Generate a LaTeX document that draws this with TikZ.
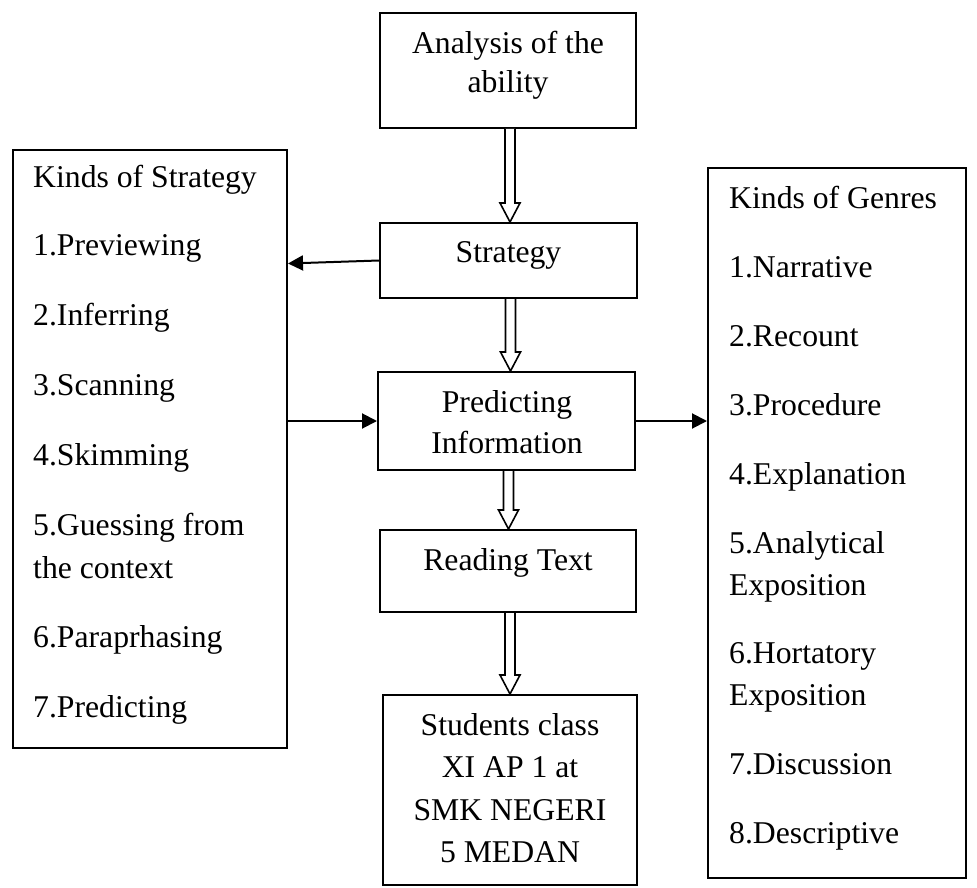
\documentclass[tikz,border=0pt]{standalone}
\usepackage{fontspec}
\setmainfont{Liberation Serif}
\usetikzlibrary{arrows.meta,calc}
\begin{document}
\begin{tikzpicture}[x=1pt,y=-1pt,
  box/.style={draw=black,line width=2pt,rectangle,inner sep=0pt,fill=none},
  txt/.style={inner sep=0pt,font=\fontsize{31.7}{38}\selectfont},
  ltxt/.style={txt,anchor=base west},
  ctxt/.style={txt,anchor=base},
  arr/.style={line width=2pt,-{Triangle[length=15pt,width=15pt]}},
  blk/.style={draw=black,line width=1.6pt,fill=white,line join=miter}]
\useasboundingbox (0,0) rectangle (977,888);
% boxes
\node[box,minimum width=256pt,minimum height=115pt] (ana) at (508,70.5) {};
\node[box,minimum width=257pt,minimum height=75pt] (strat) at (508.5,260.5) {};
\node[box,minimum width=257pt,minimum height=98pt] (pred) at (506.5,421) {};
\node[box,minimum width=256pt,minimum height=82pt] (read) at (508,571) {};
\node[box,minimum width=254pt,minimum height=190pt] (stud) at (510,790) {};
\node[box,minimum width=274pt,minimum height=598pt] (left) at (150,449) {};
\node[box,minimum width=258pt,minimum height=710pt] (right) at (837,523) {};
% centre texts
\node[ctxt] (ana1) at (508,54) {Analysis of the};
\node[ctxt] (ana2) at (508,93) {ability};
\node[ctxt] (strat1) at (508.5,262) {Strategy};
\node[ctxt] (pred1) at (507,412) {Predicting};
\node[ctxt] (pred2) at (507,453) {Information};
\node[ctxt] (read1) at (508,570) {Reading Text};
\node[ctxt] (stud1) at (510,735) {Students class};
\node[ctxt] (stud2) at (510,777) {XI AP 1 at};
\node[ctxt] (stud3) at (510,820) {SMK NEGERI};
\node[ctxt] (stud4) at (510,862) {5 MEDAN};
% left list
\foreach \t/\yy [count=\i] in {Kinds of Strategy/187,1.Previewing/255,2.Inferring/325,3.Scanning/395,4.Skimming/465,5.Guessing from/535,the context/578,6.Paraprhasing/647,7.Predicting/717}
  \node[ltxt] (l\i) at (33,\yy) {\t};
% right list
\foreach \t/\yy [count=\i] in {Kinds of Genres/208,1.Narrative/277,2.Recount/346,3.Procedure/415,4.Explanation/484,5.Analytical/553,Exposition/595,6.Hortatory/663,Exposition/705,7.Discussion/774,8.Descriptive/843}
  \node[ltxt] (r\i) at (729,\yy) {\t};
% block arrows
\foreach \a/\b in {ana/strat,strat/pred,pred/read,read/stud}
  \draw[blk] let \p1=(\a.south), \p2=(\b.north) in
    (\x1-3pt,\y1) -- (\x1-3pt,\y2+19pt) -- (\x1-8pt,\y2+19pt) -- (\x1+2pt,\y2)
    -- (\x1+12pt,\y2+19pt) -- (\x1+7pt,\y2+19pt) -- (\x1+7pt,\y1);
% line arrows
\draw[arr] (strat.west) -- ([yshift=-3pt]strat.west -| left.east);
\draw[arr] (left.east |- pred.west) -- (pred.west);
\draw[arr] (pred.east) -- (pred.east -| right.west);
\end{tikzpicture}
\end{document}
